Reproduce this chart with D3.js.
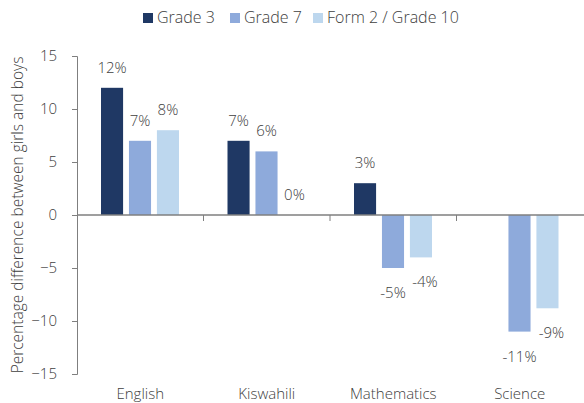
<!DOCTYPE html>
<html>
<head>
<meta charset="utf-8">
<script src="https://cdn.jsdelivr.net/npm/d3@7"></script>
<style>
  body { margin: 0; background: #fff; }
  text { font-family: "Open Sans", "Noto Sans", sans-serif; font-weight: 300; fill: #404040; }
</style>
</head>
<body>
<svg id="chart"></svg>
<script>
// Data
var subjects = ["English", "Kiswahili", "Mathematics", "Science"];
var seriesNames = ["Grade 3", "Grade 7", "Form 2 / Grade 10"];
var grade3 = [12, 7, 3, null];
var grade7 = [7, 6, -5, -11];
var form2 = [8, 0, -4, -8.8];
var labels3 = ["12%", "7%", "3%", ""];
var labels7 = ["7%", "6%", "-5%", "-11%"];
var labelsF = ["8%", "0%", "-4%", "-9%"];
var yTicks = [-15, -10, -5, 0, 5, 10, 15];
var colors = ["#1f3864", "#8eaadb", "#bdd7ee"];

var width = 584, height = 403;
var svg = d3.select("#chart").attr("width", width).attr("height", height);

var allSeries = [grade3, grade7, form2];
var allLabels = [labels3, labels7, labelsF];

var y = d3.scaleLinear().domain([-15, 15]).range([374, 56]);
var x0 = d3.scaleBand().domain(subjects).range([77, 583]);
var x1 = d3.scaleBand().domain(seriesNames).range([24, 102]).paddingInner(0.21);

// y axis
var yAxis = svg.append("g")
    .attr("transform", "translate(77,0)")
    .call(d3.axisLeft(y).tickValues(yTicks).tickSize(5).tickFormat(d3.format("d")));
yAxis.select(".domain").attr("stroke", "#7f7f7f");
yAxis.selectAll(".tick line").attr("stroke", "#7f7f7f");
yAxis.selectAll(".tick text")
    .attr("x", -20)
    .style("font-size", "15px")
    .style("font-family", "'Open Sans', sans-serif")
    .style("font-weight", 300)
    .attr("fill", "#404040");

// axis title
svg.append("text")
    .attr("transform", "translate(23," + y(0) + ") rotate(-90)")
    .attr("text-anchor", "middle")
    .style("font-size", "15.5px")
    .text("Percentage difference between girls and boys");

// bars
allSeries.forEach(function(vals, s) {
    svg.append("g").selectAll("rect")
        .data(vals.map(function(v, i) { return {v: v, cat: subjects[i]}; }).filter(d => d.v !== null))
        .enter()
        .append("rect")
        .attr("x", d => x0(d.cat) + x1(seriesNames[s]))
        .attr("width", x1.bandwidth())
        .attr("y", d => y(Math.max(0, d.v)))
        .attr("height", d => Math.abs(y(d.v) - y(0)))
        .attr("fill", colors[s]);
});

// zero line and category ticks
svg.append("line")
    .attr("x1", 77).attr("x2", 584)
    .attr("y1", y(0)).attr("y2", y(0))
    .attr("stroke", "#7f7f7f").attr("stroke-width", 1.3);
svg.append("g").selectAll("line")
    .data(subjects.slice(1))
    .enter()
    .append("line")
    .attr("x1", d => x0(d)).attr("x2", d => x0(d))
    .attr("y1", y(0)).attr("y2", y(0) + 6)
    .attr("stroke", "#7f7f7f");

// data labels
allSeries.forEach(function(vals, s) {
    svg.append("g").selectAll("text")
        .data(vals.map(function(v, i) { return {v: v, cat: subjects[i], lab: allLabels[s][i]}; }).filter(d => d.v !== null))
        .enter()
        .append("text")
        .attr("x", d => x0(d.cat) + x1(seriesNames[s]) + x1.bandwidth() / 2 + (d.v < 0 && s == 2 ? 4 : 0))
        .attr("y", d => d.v >= 0 ? y(d.v) - 15 : y(d.v) + 30)
        .attr("text-anchor", "middle")
        .style("font-size", "15px")
        .text(d => d.lab);
});

// category labels
svg.append("g").selectAll("text")
    .data(subjects)
    .enter()
    .append("text")
    .attr("x", d => x0(d) + x0.bandwidth() / 2)
    .attr("y", 399)
    .attr("text-anchor", "middle")
    .style("font-size", "15px")
    .text(d => d);

// legend
var legendX = [143, 230, 313];
var legend = svg.append("g").selectAll("g")
    .data(seriesNames)
    .enter()
    .append("g")
    .attr("transform", (d, i) => "translate(" + legendX[i] + ",13)");
legend.append("rect")
    .attr("width", 10).attr("height", 10)
    .attr("fill", (d, i) => colors[i]);
legend.append("text")
    .attr("x", 14).attr("y", 10)
    .style("font-size", "16px")
    .text(d => d);
</script>
</body>
</html>
